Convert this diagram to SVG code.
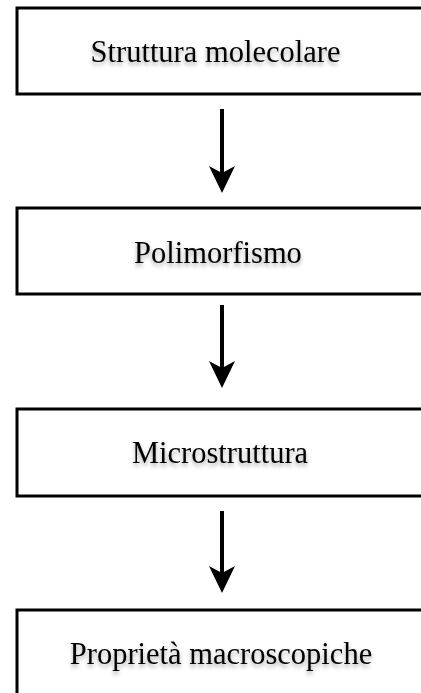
<svg xmlns="http://www.w3.org/2000/svg" width="421" height="693" viewBox="0 0 421 693">
<defs>
<filter id="sh" x="-10%" y="-30%" width="120%" height="180%">
<feDropShadow dx="0" dy="3" stdDeviation="2" flood-color="#000" flood-opacity="0.35"/>
</filter>
</defs>
<style>
.box{fill:#fff;stroke:#000;stroke-width:3}
.lbl{font-family:"Liberation Serif","Times New Roman",serif;font-size:30.5px;fill:#000;text-anchor:middle;filter:url(#sh)}
.conn{stroke:#000;stroke-width:4;fill:none}
.head{fill:#000}
</style>
<rect width="421" height="693" fill="#fff"/>
<g id="n1"><rect class="box" x="17" y="8" width="420" height="86"/><text class="lbl" x="215.5" y="62">Struttura molecolare</text></g>
<g id="n2"><rect class="box" x="17" y="208" width="420" height="86"/><text class="lbl" x="218" y="263">Polimorfismo</text></g>
<g id="n3"><rect class="box" x="17" y="409" width="420" height="87"/><text class="lbl" x="220" y="463">Microstruttura</text></g>
<g id="n4"><rect class="box" x="17" y="610" width="420" height="100"/><text class="lbl" x="221" y="664">Proprietà macroscopiche</text></g>
<g id="connectors">
<line class="conn" x1="222" y1="109" x2="222" y2="175"/>
<path class="head" d="M209,166 L222,173 L235,166 L222,193 Z"/>
<line class="conn" x1="222" y1="305" x2="222" y2="370"/>
<path class="head" d="M209,361 L222,368 L235,361 L222,388 Z"/>
<line class="conn" x1="222" y1="511" x2="222" y2="575"/>
<path class="head" d="M209,566 L222,573 L235,566 L222,593 Z"/>
</g>
</svg>
